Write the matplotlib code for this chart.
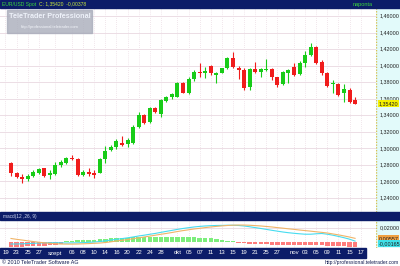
import numpy as np
import matplotlib.pyplot as plt
import matplotlib.transforms as mtransforms
from matplotlib.patches import Rectangle

plt.rcParams['font.family'] = ['Liberation Sans', 'DejaVu Sans']

# EUR/USD daily candles (aug 20 - nov 16)
opens = [1.2827, 1.2706, 1.2657, 1.2626, 1.2666, 1.2699, 1.2759, 1.2678, 1.2690, 1.2799,
         1.2819, 1.2887, 1.2868, 1.2678, 1.2718, 1.2706, 1.2706, 1.2868, 1.2980, 1.3017,
         1.3068, 1.3053, 1.3061, 1.3255, 1.3403, 1.3322, 1.3484, 1.3415, 1.3576, 1.3625,
         1.3625, 1.3794, 1.3666, 1.3835, 1.3927, 1.3907, 1.3996, 1.3887, 1.3915, 1.3968,
         1.4089, 1.3968, 1.3947, 1.3738, 1.3956, 1.3927, 1.3944, 1.3956, 1.3859, 1.3778,
         1.3915, 1.3980, 1.3899, 1.4028, 1.4129, 1.4222, 1.4048, 1.3915, 1.3778, 1.3778,
         1.3669, 1.3706, 1.3585]
highs = [1.2839, 1.2718, 1.2690, 1.2690, 1.2738, 1.2766, 1.2766, 1.2738, 1.2839, 1.2859,
         1.2899, 1.2920, 1.2880, 1.2738, 1.2759, 1.2738, 1.2880, 1.3029, 1.3041, 1.3110,
         1.3153, 1.3125, 1.3282, 1.3443, 1.3415, 1.3504, 1.3504, 1.3593, 1.3633, 1.3673,
         1.3806, 1.3806, 1.3859, 1.3947, 1.4028, 1.3980, 1.4008, 1.3920, 1.3975, 1.4104,
         1.4168, 1.3996, 1.3968, 1.3968, 1.4048, 1.3968, 1.4077, 1.3968, 1.3866, 1.3939,
         1.3956, 1.4028, 1.4060, 1.4181, 1.4277, 1.4237, 1.4068, 1.3927, 1.3826, 1.3786,
         1.3778, 1.3726, 1.3625]
lows = [1.2666, 1.2638, 1.2585, 1.2605, 1.2650, 1.2686, 1.2657, 1.2626, 1.2678, 1.2778,
        1.2807, 1.2859, 1.2666, 1.2666, 1.2666, 1.2638, 1.2699, 1.2827, 1.2968, 1.2989,
        1.3029, 1.3017, 1.3053, 1.3243, 1.3294, 1.3310, 1.3431, 1.3376, 1.3564, 1.3593,
        1.3617, 1.3666, 1.3657, 1.3818, 1.3866, 1.3847, 1.3887, 1.3786, 1.3911, 1.3959,
        1.3968, 1.3835, 1.3706, 1.3706, 1.3907, 1.3866, 1.3939, 1.3826, 1.3745, 1.3766,
        1.3794, 1.3875, 1.3887, 1.3987, 1.4117, 1.4020, 1.3887, 1.3745, 1.3666, 1.3633,
        1.3564, 1.3552, 1.3536]
closes = [1.2706, 1.2650, 1.2633, 1.2666, 1.2718, 1.2747, 1.2666, 1.2699, 1.2799, 1.2831,
          1.2887, 1.2868, 1.2678, 1.2718, 1.2690, 1.2678, 1.2868, 1.2972, 1.3013, 1.3083,
          1.3041, 1.3101, 1.3255, 1.3403, 1.3303, 1.3484, 1.3443, 1.3585, 1.3617, 1.3654,
          1.3794, 1.3673, 1.3835, 1.3927, 1.3915, 1.3939, 1.3907, 1.3915, 1.3968, 1.4089,
          1.3980, 1.3947, 1.3726, 1.3956, 1.3927, 1.3956, 1.3956, 1.3859, 1.3766, 1.3927,
          1.3947, 1.3887, 1.4028, 1.4129, 1.4222, 1.4028, 1.3907, 1.3754, 1.3794, 1.3645,
          1.3718, 1.3564, 1.3542]

# macd(12, 26, 9) panel
macd_line = [-0.0024, -0.0024, -0.0021, -0.0018, -0.0014, -0.0010, -0.0007, -0.0006, -0.0006, -0.0007,
             -0.0010, -0.0008, -0.0007, -0.0004, 0.0000, 0.0004, 0.0011, 0.0021, 0.0032, 0.0042,
             0.0052, 0.0063, 0.0075, 0.0089, 0.0100, 0.0113, 0.0125, 0.0140, 0.0154, 0.0168,
             0.0182, 0.0195, 0.0206, 0.0216, 0.0224, 0.0230, 0.0234, 0.0237, 0.0238, 0.0240,
             0.0240, 0.0237, 0.0230, 0.0219, 0.0207, 0.0195, 0.0182, 0.0169, 0.0157, 0.0145,
             0.0135, 0.0127, 0.0120, 0.0114, 0.0114, 0.0120, 0.0124, 0.0114, 0.0100, 0.0083,
             0.0065, 0.0044, 0.0017]
signal_line = [0.0054, 0.0042, 0.0032, 0.0021, 0.0011, 0.0001, -0.0007, -0.0014, -0.0020, -0.0024,
               -0.0025, -0.0025, -0.0024, -0.0021, -0.0018, -0.0014, -0.0010, -0.0003, 0.0007, 0.0018,
               0.0028, 0.0039, 0.0051, 0.0063, 0.0075, 0.0087, 0.0100, 0.0113, 0.0125, 0.0138,
               0.0152, 0.0165, 0.0176, 0.0188, 0.0197, 0.0207, 0.0216, 0.0224, 0.0231, 0.0237,
               0.0241, 0.0243, 0.0243, 0.0240, 0.0235, 0.0230, 0.0223, 0.0216, 0.0207, 0.0199,
               0.0190, 0.0182, 0.0173, 0.0165, 0.0157, 0.0148, 0.0140, 0.0131, 0.0118, 0.0105,
               0.0090, 0.0074, 0.0056]
hist_vals = [-0.0063, -0.0063, -0.0061, -0.0056, -0.0054, -0.0049, -0.0045, -0.0039, -0.0031, -0.0021,
             0.0014, 0.0021, 0.0028, 0.0032, 0.0035, 0.0039, 0.0045, 0.0051, 0.0055, 0.0059,
             0.0062, 0.0065, 0.0068, 0.0071, 0.0073, 0.0076, 0.0078, 0.0079, 0.0079, 0.0079,
             0.0078, 0.0076, 0.0073, 0.0071, 0.0066, 0.0061, 0.0054, 0.0045, 0.0035, 0.0025,
             0.0014, -0.0008, -0.0013, -0.0017, -0.0021, -0.0025, -0.0028, -0.0031, -0.0034, -0.0035,
             -0.0037, -0.0038, -0.0039, -0.0041, -0.0042, -0.0042, -0.0042, -0.0045, -0.0049, -0.0054,
             -0.0058, -0.0062, -0.0065]

tick_pos = [-1, 1, 3, 5, 8, 11, 13, 15, 17, 19, 21, 23, 25, 27, 30, 32, 34, 36, 38, 40,
            42, 44, 46, 48, 51, 53, 55, 57, 59, 61, 63]
tick_labels = ['19', '23', '25', '27', 'szept', '06', '08', '10', '14', '16', '20', '22', '24', '28',
               'okt', '05', '07', '11', '13', '15', '19', '21', '25', '27', 'nov', '03', '05', '09',
               '11', '15', '17']
price_ticks = [1.24, 1.26, 1.28, 1.30, 1.32, 1.34, 1.36, 1.38, 1.40, 1.42, 1.44, 1.46]

W, H = 400, 266
fig = plt.figure(figsize=(4, 2.66), dpi=100)
fig.patch.set_facecolor('white')

def box(x0, y0, x1, y1):
    return [x0 / W, 1 - y1 / H, (x1 - x0) / W, (y1 - y0) / H]

navy = '#0c1c68'
gridc = '#ecdde5'
axbg = '#e2fafa'
xlim = (-1.98, 65.77)

def clean(a):
    a.set_xticks([])
    a.set_yticks([])
    for s in a.spines.values():
        s.set_visible(False)

# bars
fig.add_artist(Rectangle((0, 1 - 8 / H), 1, 8 / H, transform=fig.transFigure, color=navy))
fig.add_artist(Rectangle((0, 1 - 220 / H), 1, 8 / H, transform=fig.transFigure, color=navy))
fig.add_artist(Rectangle((0, 1 - 258 / H), 366 / W, 10 / H, transform=fig.transFigure, color=navy))

fig.text(2 / W, 1 - 4.2 / H, 'EUR/USD Spot', color='#3cd83c', fontsize=3.6, va='center')
fig.text(39 / W, 1 - 4.2 / H, 'C: 1,35420  -0,00378', color='#c8e83c', fontsize=3.6, va='center')
fig.text(373 / W, 1 - 4.2 / H, 'naponta', color='#3cd83c', fontsize=4.0, va='center', ha='right')
fig.text(3 / W, 1 - 216.5 / H, 'macd(12 ,26, 9)', color='#d0d8f0', fontsize=3.4, va='center')

# price panel
x = np.arange(len(opens))
o = np.array(opens); c = np.array(closes)
up = c >= o
cols = np.where(up, '#18cc18', '#f01c1c')

ax = fig.add_axes(box(0, 8, 376, 212))
ax.set_facecolor('white')
clean(ax)
for p in price_ticks:
    ax.axhline(p, color=gridc, lw=0.7, zorder=0)
for t in tick_pos:
    ax.axvline(t, color=gridc, lw=0.6, ls=(0, (1, 1.5)), zorder=0)
ax.vlines(x, lows, highs, colors=cols, lw=0.8, zorder=2)
ax.bar(x, np.maximum(np.abs(c - o), 0.0009), bottom=np.minimum(o, c), width=0.72,
       color=cols, zorder=3)
ax.set_xlim(*xlim)
ax.set_ylim(1.22307, 1.46967)

# watermark
fig.add_artist(Rectangle((7 / W, 1 - 33 / H), 85 / W, 23 / H, transform=fig.transFigure,
                         color='#a9adbb', alpha=0.8, zorder=5))
fig.text(49.5 / W, 1 - 17 / H, 'TeleTrader Professional', color='#eef2fa', fontsize=5.2,
         fontweight='bold', ha='center', va='center', zorder=6)
fig.text(49.5 / W, 1 - 27 / H, 'http://professional.teletrader.com', color='#f4f6fb',
         fontsize=2.9, ha='center', va='center', zorder=6)

# price scale
axr = fig.add_axes(box(376, 8, 400, 212), sharey=ax)
axr.set_facecolor(axbg)
clean(axr)
axr.set_xlim(0, 1)
axr.axvline(0.02, color='#d8c050', lw=1.0, ls=(0, (1, 1)))
for p in price_ticks:
    axr.text(0.14, p, f'{p:.5f}'.replace('.', ','), fontsize=3.9, va='center', color='#202020')
axr.text(0.1, closes[-1], f'{closes[-1]:.5f}'.replace('.', ','), fontsize=3.9, va='center',
         color='#202020', bbox=dict(boxstyle='square,pad=0.15', fc='#f4f000', ec='none'))

# macd panel
axm = fig.add_axes(box(0, 220, 376, 248))
axm.set_facecolor('white')
clean(axm)
h = np.array(hist_vals)
axm.bar(x, h, width=0.8, color=np.where(h >= 0, '#7cee7c', '#ff7c7c'), zorder=2)
axm.plot(x, macd_line, color='#46dcf0', lw=0.8, zorder=3)
axm.plot(x, signal_line, color='#f0b468', lw=0.8, zorder=3)
for t in tick_pos:
    axm.axvline(t, color=gridc, lw=0.6, ls=(0, (1, 1.5)), zorder=0)
axm.axhline(0.02, color=gridc, lw=0.7, zorder=0)
axm.set_xlim(*xlim)
axm.set_ylim(-0.0080, 0.0314)

axmr = fig.add_axes(box(376, 220, 400, 248), sharey=axm)
axmr.set_facecolor(axbg)
clean(axmr)
axmr.set_xlim(0, 1)
axmr.axvline(0.02, color='#d8c050', lw=1.0, ls=(0, (1, 1)))
axmr.text(0.14, 0.02, '0,02000', fontsize=3.9, va='center', color='#202020')
axmr.text(0.1, signal_line[-1], '0,00557', fontsize=3.9, va='center', color='#202020',
          bbox=dict(boxstyle='square,pad=0.15', fc='#f0a040', ec='none'))
axmr.text(0.1, macd_line[-1], '-0,00165', fontsize=3.9, va='top', color='#202020',
          bbox=dict(boxstyle='square,pad=0.15', fc='#40e0e8', ec='none'))

# date labels
tr = mtransforms.blended_transform_factory(axm.transData, fig.transFigure)
for t, lab in zip(tick_pos, tick_labels):
    fig.text(t, 1 - 253 / H, lab, transform=tr, color='white', fontsize=4.3,
             ha='center', va='center')

fig.text(2 / W, 1 - 262.5 / H, '\u00a9 2010 TeleTrader Software AG', color='#101a50',
         fontsize=3.9, va='center')
fig.text(399 / W, 1 - 262.5 / H, 'http://professional.teletrader.com', color='#101a50',
         fontsize=3.6, va='center', ha='right')

fig.savefig('out.png', dpi=100)
